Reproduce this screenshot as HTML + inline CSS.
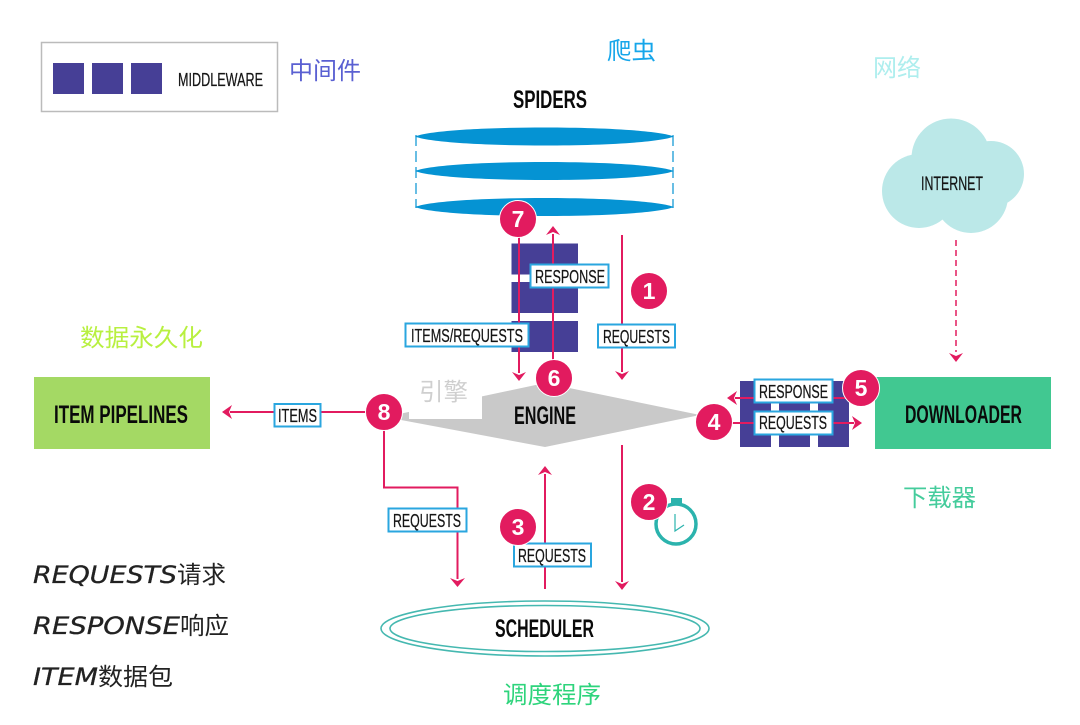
<!DOCTYPE html>
<html><head><meta charset="utf-8">
<style>
html,body{margin:0;padding:0;background:#fff}
svg{display:block}
text{font-family:"Liberation Sans","Noto Sans CJK SC",sans-serif}
.h{font-weight:bold;font-size:25px;fill:#0a0a0a}
.l{font-size:18px;fill:#151515;stroke:#151515;stroke-width:.25}
.n{font-weight:bold;font-size:23px;fill:#fff;text-anchor:middle}
.c{font-family:"Liberation Sans","Noto Sans CJK SC",sans-serif;font-size:24px}
.e{font-family:"DejaVu Sans","Liberation Sans",sans-serif;font-style:italic;font-size:24px;fill:#222;stroke:#222;stroke-width:.3}
.p{stroke:#e21b5f;stroke-width:2;fill:none}
.a{fill:#e21b5f}
.b{fill:#fff;stroke:#2aa6df;stroke-width:2}
.m{fill:#463f96}
.k{fill:#e21b5f;stroke:#fff;stroke-width:1}
</style></head>
<body>
<svg width="1080" height="725" viewBox="0 0 1080 725" xmlns="http://www.w3.org/2000/svg">
<rect width="1080" height="725" fill="#fff"/>

<!-- legend -->
<rect x="41.500" y="42.500" width="236" height="69" fill="#fff" stroke="#bbb" stroke-width="1.500"/>
<rect class="m" x="53" y="63" width="31" height="31"/>
<rect class="m" x="92" y="63" width="31" height="31"/>
<rect class="m" x="131" y="63" width="31" height="31"/>
<text class="l" x="178" y="86" textLength="85" lengthAdjust="spacingAndGlyphs">MIDDLEWARE</text>
<text class="c" x="289" y="79" fill="#5a60d2" textLength="72" lengthAdjust="spacingAndGlyphs">中间件</text>
<text class="c" x="607" y="59" fill="#16a6ea" textLength="49" lengthAdjust="spacingAndGlyphs">爬虫</text>
<text class="c" x="873" y="76" fill="#aeeeee" textLength="48" lengthAdjust="spacingAndGlyphs">网络</text>
<text class="c" x="80" y="346" fill="#b8f040" textLength="123" lengthAdjust="spacingAndGlyphs">数据永久化</text>
<text class="c" x="903" y="506" fill="#45cc9c" textLength="73" lengthAdjust="spacingAndGlyphs">下载器</text>
<text class="c" x="503" y="703" fill="#2ed47c" textLength="98" lengthAdjust="spacingAndGlyphs">调度程序</text>

<!-- spiders -->
<text class="h" x="513" y="108" textLength="74" lengthAdjust="spacingAndGlyphs">SPIDERS</text>
<path d="M416 135V208M673 135V208" stroke="#0593d3" stroke-width="1.200" stroke-dasharray="11 5" fill="none"/>
<path d="M415 136.500C445 124.500 644 124.500 674 136.500C644 148.500 445 148.500 415 136.500Z" fill="#0593d3"/>
<path d="M415 171C445 159 644 159 674 171C644 183 445 183 415 171Z" fill="#0593d3"/>
<path d="M415 207C445 195 644 195 674 207C644 219 445 219 415 207Z" fill="#0593d3"/>

<!-- cloud -->
<g fill="#bbe8e8">
<circle cx="951" cy="158" r="39.500"/>
<circle cx="919" cy="191" r="37"/>
<circle cx="991" cy="174" r="33"/>
<circle cx="971" cy="196" r="37"/>
<rect x="925" y="160" width="50" height="40"/>
</g>
<text class="l" x="921" y="190" textLength="62" lengthAdjust="spacingAndGlyphs" style="font-size:19px">INTERNET</text>
<path d="M956 240V352" stroke="#e21b5f" stroke-width="1.500" stroke-dasharray="6 4" fill="none"/>
<polygon class="a" points="956,362 949,353 956,356 963,353"/>

<!-- engine -->
<polygon points="385,417 545,383 700,415 545,447" fill="#c9c9c9"/>
<polygon points="380,360 482,360 482,396 482,419 409,419 409,409 380,409" fill="#fff"/>
<text class="c" x="419" y="400" fill="#cfcfcf" textLength="49" lengthAdjust="spacingAndGlyphs">引擎</text>
<text class="h" x="514" y="424" textLength="62" lengthAdjust="spacingAndGlyphs">ENGINE</text>

<!-- middleware top -->
<rect class="m" x="511.500" y="243.500" width="66.500" height="31"/>
<rect class="m" x="511.500" y="282" width="66.500" height="31"/>
<rect class="m" x="511.500" y="321" width="66.500" height="31"/>

<!-- middleware right -->
<rect class="m" x="740" y="381" width="31" height="66"/>
<rect class="m" x="779" y="381" width="31" height="66"/>
<rect class="m" x="818" y="381" width="31" height="66"/>

<!-- boxes -->
<rect x="34" y="377" width="176" height="72" fill="#a4d964"/>
<text class="h" x="54" y="423" textLength="134" lengthAdjust="spacingAndGlyphs">ITEM PIPELINES</text>
<rect x="875" y="377" width="176" height="72" fill="#41c891"/>
<text class="h" x="905" y="423" textLength="117" lengthAdjust="spacingAndGlyphs">DOWNLOADER</text>

<!-- scheduler -->
<ellipse cx="545" cy="628.500" rx="164" ry="27.500" fill="none" stroke="#45b8b0" stroke-width="1.600"/>
<ellipse cx="545" cy="628.500" rx="155" ry="23" fill="none" stroke="#45b8b0" stroke-width="1.600"/>
<text class="h" x="495" y="637" textLength="99" lengthAdjust="spacingAndGlyphs">SCHEDULER</text>

<!-- connectors -->
<path class="p" d="M519 220V373"/>
<polygon class="a" points="519,381 512,372 519,375 526,372"/>
<path class="p" d="M553 378V234"/>
<polygon class="a" points="553,226 546,235 553,232 560,235"/>
<path class="p" d="M622 235V372"/>
<polygon class="a" points="622,380 615,371 622,374 629,371"/>
<path class="p" d="M622 445V582"/>
<polygon class="a" points="622,590 615,581 622,584 629,581"/>
<path class="p" d="M545 589V474"/>
<polygon class="a" points="545,466 538,475 545,472 552,475"/>
<path class="p" d="M384 412V487.500H457.500V579"/>
<polygon class="a" points="457.500,587 450,578 457.500,581 465,578"/>
<path class="p" d="M384 412H230"/>
<polygon class="a" points="222,412 232,405 229,412 232,419"/>
<path class="p" d="M861 398H735"/>
<polygon class="a" points="727,398 737,391 734,398 737,405"/>
<path class="p" d="M714 423H854"/>
<polygon class="a" points="862,423 852,416 855,423 852,430"/>

<!-- labels -->
<rect class="b" x="530.500" y="264.500" width="78" height="23"/>
<text class="l" x="535" y="283" textLength="70" lengthAdjust="spacingAndGlyphs">RESPONSE</text>
<rect class="b" x="405.500" y="323.500" width="123" height="23"/>
<text class="l" x="411" y="342" textLength="112" lengthAdjust="spacingAndGlyphs">ITEMS/REQUESTS</text>
<rect class="b" x="598" y="324.500" width="77" height="23"/>
<text class="l" x="603" y="343" textLength="67" lengthAdjust="spacingAndGlyphs">REQUESTS</text>
<rect class="b" x="754.500" y="379.500" width="78" height="23"/>
<text class="l" x="759" y="398" textLength="69" lengthAdjust="spacingAndGlyphs">RESPONSE</text>
<rect class="b" x="754.500" y="411.500" width="78" height="23"/>
<text class="l" x="759" y="429" textLength="68" lengthAdjust="spacingAndGlyphs">REQUESTS</text>
<rect class="b" x="274.500" y="404" width="46" height="22.500"/>
<text class="l" x="278" y="422" textLength="39" lengthAdjust="spacingAndGlyphs">ITEMS</text>
<rect class="b" x="388.500" y="508.500" width="78" height="23"/>
<text class="l" x="393" y="527" textLength="68" lengthAdjust="spacingAndGlyphs">REQUESTS</text>
<rect class="b" x="514" y="543.500" width="77" height="23"/>
<text class="l" x="518" y="562" textLength="68" lengthAdjust="spacingAndGlyphs">REQUESTS</text>

<!-- clock -->
<rect x="671" y="498" width="11" height="6" fill="#2bb3ad"/>
<circle cx="676" cy="524" r="20" fill="#fff" stroke="#2bb3ad" stroke-width="3.500"/>
<path d="M675 514V531L684 525" fill="none" stroke="#2bb3ad" stroke-width="1.200"/>

<!-- number badges -->
<circle class="k" cx="518" cy="219" r="18.500"/><text class="n" x="518" y="227">7</text>
<circle class="k" cx="649" cy="291" r="18.500"/><text class="n" x="649" y="299">1</text>
<circle class="k" cx="554" cy="378" r="18.500"/><text class="n" x="554" y="386">6</text>
<circle class="k" cx="384" cy="412" r="18.500"/><text class="n" x="384" y="420">8</text>
<circle class="k" cx="714" cy="422" r="18.500"/><text class="n" x="714" y="430">4</text>
<circle class="k" cx="861" cy="388" r="18.500"/><text class="n" x="861" y="396">5</text>
<circle class="k" cx="649" cy="502" r="18.500"/><text class="n" x="649" y="510">2</text>
<circle class="k" cx="518" cy="527" r="18.500"/><text class="n" x="518" y="535">3</text>

<!-- notes -->
<text class="e" x="33" y="583" textLength="144" lengthAdjust="spacingAndGlyphs">REQUESTS</text>
<text class="c" x="177" y="583" fill="#222" textLength="49" lengthAdjust="spacingAndGlyphs">请求</text>
<text class="e" x="33" y="634" textLength="147" lengthAdjust="spacingAndGlyphs">RESPONSE</text>
<text class="c" x="180" y="634" fill="#222" textLength="49" lengthAdjust="spacingAndGlyphs">响应</text>
<text class="e" x="33" y="685" textLength="65" lengthAdjust="spacingAndGlyphs">ITEM</text>
<text class="c" x="98" y="685" fill="#222" textLength="75" lengthAdjust="spacingAndGlyphs">数据包</text>
</svg>
</body></html>
